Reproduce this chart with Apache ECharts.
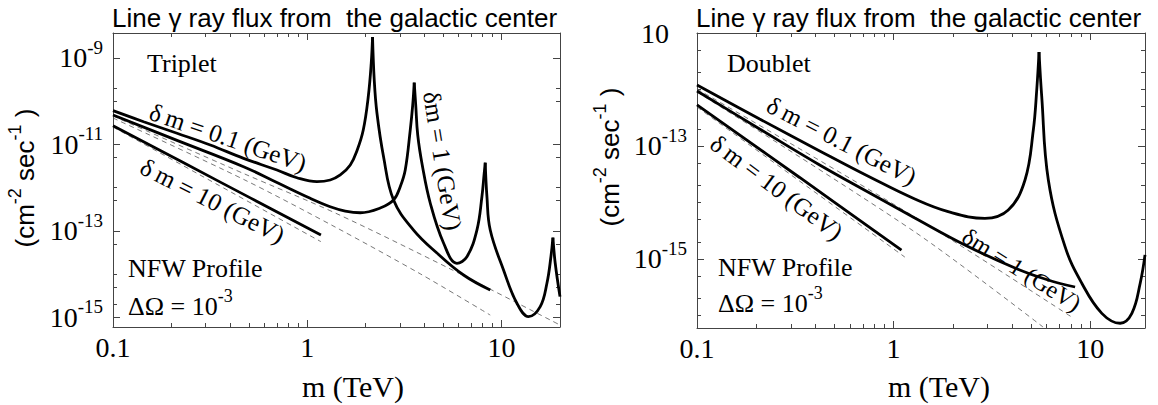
<!DOCTYPE html>
<html><head><meta charset="utf-8">
<script src="https://cdn.jsdelivr.net/npm/echarts@6/dist/echarts.min.js"></script>
<style>html,body{margin:0;padding:0;background:#fff}#c{width:1158px;height:405px}</style>
</head><body><div id="c"></div>
<script>
// ---------- data (m in TeV, flux in cm^-2 s^-1) ----------
const triplet01 = [[0.1,6.03e-11],[0.1437,3.35e-11],[0.2135,1.81e-11],[0.3168,9.68e-12],[0.470,4.76e-12],[0.698,2.55e-12],[0.885,1.69e-12],[1.122,1.37e-12],[1.313,1.50e-12],[1.479,1.96e-12],[1.665,3.33e-12],[1.808,7.41e-12],[1.942,2.15e-11],[2.060,1.25e-10],[2.135,7.66e-10],[2.168,3.06e-9],[2.212,3.10e-10],[2.284,5.33e-11],[2.470,5.19e-12],[2.781,5.16e-13],[3.525,1.04e-13],[4.651,3.06e-14],[6.374,9.48e-15],[8.748,4.26e-15]];
const triplet1 = [[0.1,4.80e-11],[0.2135,1.24e-11],[0.470,3.05e-12],[0.698,1.31e-12],[1.036,5.65e-13],[1.313,3.61e-13],[1.569,2.87e-13],[1.874,2.62e-13],[2.375,3.37e-13],[2.781,5.16e-13],[3.010,1.05e-12],[3.194,2.55e-12],[3.389,2.15e-11],[3.491,8.17e-11],[3.553,2.68e-10],[3.617,8.17e-11],[3.704,1.65e-11],[3.907,3.33e-12],[4.295,4.40e-13],[5.029,5.22e-14],[5.895,1.77e-14],[6.636,2.51e-14],[7.470,1.04e-13],[7.926,6.15e-13],[8.147,2.18e-12],[8.245,3.77e-12],[8.413,6.15e-13],[8.748,1.04e-13],[10.24,1.24e-14],[12.00,2.10e-15],[13.77,1.03e-15],[15.82,1.75e-15],[17.13,6.10e-15],[17.96,2.51e-14],[18.39,6.92e-14],[18.90,1.77e-14],[20,2.99e-15]];
const triplet10 = [[0.1,2.71e-11],[0.343,1.47e-12],[1.176,8.00e-14]];
const tripletPertA = [[0.1,4.54e-11],[0.470,2.12e-12],[1.394,2.58e-13],[5.445,1.31e-14],[20,6.59e-16]];
const tripletPertB = [[0.1,4.08e-11],[0.470,1.55e-12],[1.394,1.22e-13],[3.815,1.01e-14],[8.748,1.12e-15]];
const tripletPertC = [[0.1,2.53e-11],[0.343,1.19e-12],[1.176,5.60e-14]];

const doublet01 = [[0.1,1.20e-12],[0.2082,3.01e-13],[0.4207,8.17e-14],[0.7563,2.82e-14],[1.282,1.15e-14],[1.895,6.87e-15],[2.914,5.25e-15],[3.831,7.36e-15],[4.660,2.50e-14],[5.137,1.92e-13],[5.346,9.80e-13],[5.492,4.61e-12],[5.669,7.46e-13],[6.125,2.50e-14],[7.449,1.65e-15],[9.063,3.72e-16],[11.46,1.09e-16],[14.20,7.28e-17],[16.29,1.09e-16],[17.96,3.72e-16],[19,1.18e-15]];
const doublet1 = [[0.1,9.40e-13],[0.2082,2.00e-13],[0.4207,4.61e-14],[0.7563,1.47e-14],[1.282,5.32e-15],[2.305,1.77e-15],[4.144,6.93e-16],[6.104,4.25e-16],[8.378,3.19e-16]];
const doublet10 = [[0.1,5.32e-13],[0.3328,2.77e-14],[1.097,1.44e-15]];
const doubletPertA = [[0.1,1.02e-12],[1.282,5.53e-15],[8.183,9.04e-17]];
const doubletPertB = [[0.1,9.04e-13],[1.282,3.01e-15],[5.756,6.25e-17]];
const doubletPertC = [[0.1,4.90e-13],[1.141,1.08e-15]];

// ---------- axes ticks ----------
const xMajorTicks = [0.1, 1, 10];
const xTickLabels = ['0.1', '1', '10'];
const xMinorTicks = [0.2,0.3,0.4,0.5,0.6,0.7,0.8,0.9,2,3,4,5,6,7,8,9];
const tripletXRange = [0.1, 20];
const tripletYRange = [5.93e-16, 3.79e-9];
const tripletYMajor = [1e-9, 1e-11, 1e-13, 1e-15];
const tripletYExp = ['-9', '-11', '-13', '-15'];
const tripletYMinor = [2e-10, 1e-10, 5e-12, 1e-12, 5e-13, 5e-14, 1e-14, 5e-15, 2e-15];
const doubletXRange = [0.1, 19];
const doubletYRange = [6.0e-17, 1e-11];
const doubletYMajor = [1e-11, 1e-13, 1e-15];
const doubletYExp = ['', '-13', '-15'];
const doubletYMinor = [5e-12, 2e-12, 1e-12, 5e-13, 2e-13, 5e-14, 2e-14, 1e-14, 5e-15, 2e-15, 5e-16, 2e-16, 1e-16];

// ---------- texts ----------
const titleText = 'Line \u03b3 ray flux from  the galactic center';
const xName = 'm (TeV)';

const L = Math.log10;
const SERIF = 'Liberation Serif, DejaVu Serif, serif';
const SANS = 'Liberation Sans, Arial, sans-serif';
const FRAME = '#444';

const panels = [
  { grid: {left:113, top:33, width:447, height:294}, xr: tripletXRange, yr: tripletYRange,
    yMajor: tripletYMajor, yExp: tripletYExp, yMinor: tripletYMinor,
    solid: [triplet01, triplet1, triplet10], dashed: [tripletPertA, tripletPertB, tripletPertC] },
  { grid: {left:697, top:33, width:448, height:295}, xr: doubletXRange, yr: doubletYRange,
    yMajor: doubletYMajor, yExp: doubletYExp, yMinor: doubletYMinor,
    solid: [doublet01, doublet1, doublet10], dashed: [doubletPertA, doubletPertB, doubletPertC] }
];

function near(arr, v) { return arr.findIndex(a => Math.abs(L(a) - v) < 1e-6); }

function segments(data) {
  const out = []; let cur = [data[0]];
  for (let i = 1; i < data.length; i++) {
    cur.push(data[i]);
    if (i < data.length - 1 && data[i][1] > data[i-1][1] && data[i][1] > data[i+1][1]) { out.push(cur); cur = [data[i]]; }
  }
  out.push(cur); return out;
}

const grids = [], xAxes = [], yAxes = [], series = [];
panels.forEach((p, gi) => {
  grids.push(Object.assign({outerBoundsMode:'none', containLabel:false}, p.grid));
  const xmin = L(p.xr[0]), xmax = L(p.xr[1]) + 1e-9;
  const ymin = L(p.yr[0]), ymax = L(p.yr[1]) + 1e-9;
  const lineOn = {show:true, onZero:false, lineStyle:{color:FRAME, width:1}};
  const lineOff = {show:false, onZero:false};
  const tk = (vals, len) => ({show:true, inside:true, length:len, customValues: vals.map(L), lineStyle:{color:FRAME, width:1}});
  const base = {gridIndex:gi, type:'value', splitLine:{show:false}, scale:false};
  xAxes.push(Object.assign({}, base, {min:xmin, max:xmax, position:'bottom', axisLine:lineOn, axisTick:tk(xMajorTicks, 7),
    axisLabel:{show:true, customValues: xMajorTicks.map(L), margin:6, fontFamily:SERIF, fontSize:28, color:'#000',
      formatter: v => xTickLabels[near(xMajorTicks, v)]}}));
  xAxes.push(Object.assign({}, base, {min:xmin, max:xmax, position:'bottom', axisLine:lineOff, axisTick:tk(xMinorTicks, 4), axisLabel:{show:false}}));
  xAxes.push(Object.assign({}, base, {min:xmin, max:xmax, position:'top', axisLine:lineOn, axisTick:tk(xMajorTicks, 7), axisLabel:{show:false}}));
  xAxes.push(Object.assign({}, base, {min:xmin, max:xmax, position:'top', axisLine:lineOff, axisTick:tk(xMinorTicks, 4), axisLabel:{show:false}}));
  const rich = {
    b:{fontFamily:SERIF, fontSize:28, lineHeight:28, verticalAlign:'bottom', color:'#000'},
    bp:{fontFamily:SERIF, fontSize:28, lineHeight:28, verticalAlign:'bottom', color:'#000', padding:[0,18,0,0]},
    s:{fontFamily:SERIF, fontSize:19, lineHeight:19, verticalAlign:'bottom', color:'#000', padding:[0,0,15,0]}
  };
  yAxes.push(Object.assign({}, base, {min:ymin, max:ymax, position:'left', axisLine:lineOn, axisTick:tk(p.yMajor, 7),
    axisLabel:{show:true, customValues: p.yMajor.map(L), margin:10, fontFamily:SERIF, fontSize:28, color:'#000', rich:rich,
      formatter: v => { const e = p.yExp[near(p.yMajor, v)]; return e ? '{b|10}{s|' + e + '}' : '{bp|10}'; }}}));
  yAxes.push(Object.assign({}, base, {min:ymin, max:ymax, position:'left', axisLine:lineOff, axisTick:tk(p.yMinor, 4), axisLabel:{show:false}}));
  yAxes.push(Object.assign({}, base, {min:ymin, max:ymax, position:'right', axisLine:lineOn, axisTick:tk(p.yMajor, 7), axisLabel:{show:false}}));
  yAxes.push(Object.assign({}, base, {min:ymin, max:ymax, position:'right', axisLine:lineOff, axisTick:tk(p.yMinor, 4), axisLabel:{show:false}}));
  const xi = gi * 4, yi = gi * 4;
  p.dashed.forEach(d => series.push({type:'line', xAxisIndex:xi, yAxisIndex:yi, data:d.map(q => [L(q[0]), L(q[1])]),
    showSymbol:false, symbol:'none', smooth:0.3, silent:true, z:2, lineStyle:{color:'#555', width:0.8, type:[5,4]}}));
  p.solid.forEach(d => segments(d).forEach(seg => series.push({type:'line', xAxisIndex:xi, yAxisIndex:yi,
    data:seg.map(q => [L(q[0]), L(q[1])]), showSymbol:false, symbol:'none', smooth:0.4, silent:true, z:3,
    lineStyle:{color:'#000', width:2.8}})));
});

function txt(x, y, text, size, family, opts) {
  return Object.assign({type:'text', x:x, y:y, silent:true, z:10, style:Object.assign({text:text, fontSize:size, fontFamily:family, fill:'#000',
    align:'left', verticalAlign:'middle', textAlign:'left', textVerticalAlign:'middle'}, (opts && opts.style) || {})}, (opts && opts.el) || {});
}
const supRich = (size, family) => ({
  n:{fontFamily:family, fontSize:size, lineHeight:size, verticalAlign:'bottom', color:'#000'},
  s:{fontFamily:family, fontSize:Math.round(size*0.7), lineHeight:Math.round(size*0.7), verticalAlign:'bottom', color:'#000', padding:[0,0,Math.round(size*0.55),0]}
});
const center = {align:'center', textAlign:'center'};
const deg = Math.PI / 180;
const graphics = [
  txt(112, 18, titleText, 26, SANS),
  txt(696, 18, titleText, 26, SANS),
  txt(147, 63, 'Triplet', 26, SERIF),
  txt(727, 63, 'Doublet', 26, SERIF),
  txt(128, 268, 'NFW Profile', 26, SERIF),
  txt(718, 267, 'NFW Profile', 26, SERIF),
  txt(128, 306, '{n|\u0394\u03a9 = 10}{s|-3}', 26, SERIF, {style:{rich:supRich(26, SERIF)}}),
  txt(718, 303, '{n|\u0394\u03a9 = 10}{s|-3}', 26, SERIF, {style:{rich:supRich(26, SERIF)}}),
  txt(353, 386, xName, 30, SERIF, {style:center}),
  txt(939, 386, xName, 30, SERIF, {style:center}),
  txt(25, 178, '{n|(cm}{s|-2}{n| sec}{s|-1}{n| )}', 26, SANS, {style:Object.assign({rich:supRich(26, SANS)}, center), el:{rotation:Math.PI/2}}),
  txt(610, 157, '{n|(cm}{s|-2}{n| sec}{s|-1}{n| )}', 26, SANS, {style:Object.assign({rich:supRich(26, SANS)}, center), el:{rotation:Math.PI/2}}),
  txt(228, 137.5, '\u03b4\u2009m = 0.1 (GeV)', 25, SERIF, {style:center, el:{rotation:-18.9*deg}}),
  txt(212.5, 200.8, '\u03b4\u2009m = 10 (GeV)', 25, SERIF, {style:center, el:{rotation:-26.8*deg}}),
  txt(442.5, 160.8, '\u03b4m = 1 (GeV)', 25, SERIF, {style:center, el:{rotation:-80.8*deg}}),
  txt(841.7, 140.8, '\u03b4\u2009m = 0.1 (GeV)', 25, SERIF, {style:center, el:{rotation:-27.1*deg}}),
  txt(776.7, 187.5, '\u03b4\u2009m = 10 (GeV)', 25, SERIF, {style:center, el:{rotation:-36.6*deg}}),
  txt(1021.7, 270, '\u03b4m = 1 (GeV)', 24, SERIF, {style:center, el:{rotation:-32*deg}})
];

const chart = echarts.init(document.getElementById('c'), null, {renderer:'svg', width:1158, height:405});
chart.setOption({
  animation:false,
  backgroundColor:'#fff',
  grid:grids, xAxis:xAxes, yAxis:yAxes, series:series,
  graphic:{elements:graphics}
});
</script></body></html>
